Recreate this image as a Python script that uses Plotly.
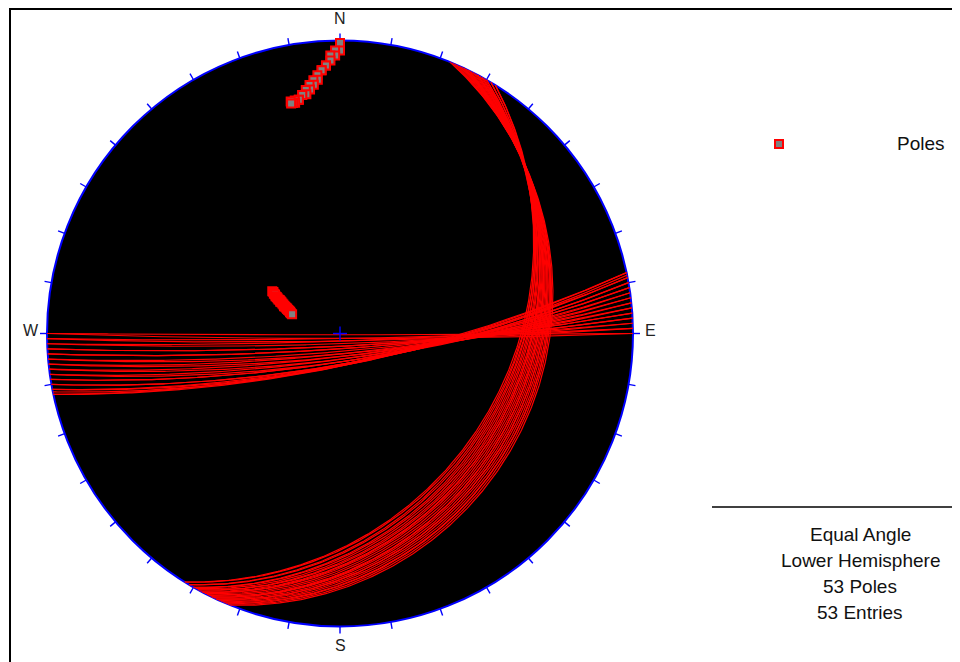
import numpy as np
import plotly.graph_objects as go

# ---- data: planes (dip direction / dip), Dips-style entries ----
set_a_dip_direction = [180, 180, 179, 179, 178, 178, 177, 177, 176, 176, 175, 175, 174, 174,
                       173, 173, 172, 172, 171, 171, 170, 170, 169, 169, 168.5, 168, 168]
set_a_dip = [89.5, 88, 88, 87, 87, 86, 85, 85, 84, 84, 83, 82, 82, 81,
             81, 80, 80, 79, 79, 79, 78, 78, 78, 77.5, 77.5, 78, 77.5]

set_b_dip_direction = [122, 122, 121, 121, 120, 120, 119.5, 119, 119, 118.5, 118, 118, 117.5,
                       117, 116.5, 116, 116, 115.5, 115, 115, 114.5, 114, 113.5, 113, 112.5, 112]
set_b_dip = [30.5, 30, 29.5, 29, 28.5, 28, 27.5, 27, 26.5, 26, 26, 25.5, 25,
             24.5, 24, 24, 23.5, 23, 22.5, 22.5, 22, 21.5, 21, 21, 20.5, 20]

dip_direction = set_a_dip_direction + set_b_dip_direction
dip = set_a_dip + set_b_dip

compass_labels = ["N", "E", "S", "W"]
info_lines = ["Equal Angle", "Lower Hemisphere",
              f"{len(dip)} Poles", f"{len(dip)} Entries"]

# ---- layout geometry (page pixels; the page body adds an 8px margin) ----
OFF = 8
W, H = 960 - OFF, 662 - OFF
CX, CY, R = 340.0 - OFF, 333.5 - OFF, 293.0
FONT = "Liberation Sans, Arial, sans-serif"


def project(n, e, d):
    """Equal-angle lower-hemisphere projection of unit vector (north, east, down)."""
    return e / (1.0 + d), n / (1.0 + d)


# great circles
t = np.linspace(0, np.pi, 361)
gc_x, gc_y = [], []
for dd, dp in zip(dip_direction, dip):
    ddr, dpr = np.radians(dd), np.radians(dp)
    sr = ddr - np.pi / 2
    s = np.array([np.cos(sr), np.sin(sr), 0.0])
    dv = np.array([np.cos(dpr) * np.cos(ddr), np.cos(dpr) * np.sin(ddr), np.sin(dpr)])
    v = np.outer(np.cos(t), s) + np.outer(np.sin(t), dv)
    x, y = project(v[:, 0], v[:, 1], v[:, 2])
    gc_x += list(x) + [None]
    gc_y += list(y) + [None]

# poles
pole_x, pole_y = [], []
for dd, dp in zip(dip_direction, dip):
    tr = np.radians(dd + 180)
    pl = np.radians(90 - dp)
    n, e, d = np.cos(pl) * np.cos(tr), np.cos(pl) * np.sin(tr), np.sin(pl)
    x, y = project(n, e, d)
    pole_x.append(x)
    pole_y.append(y)

fig = go.Figure()

# primitive circle
fig.add_shape(type="circle", xref="x", yref="y", x0=-1, y0=-1, x1=1, y1=1,
              fillcolor="black", line=dict(color="#0000FF", width=2), layer="below")

# ticks every 10 degrees
tick_len = 7 / R
tx, ty = [], []
for az in range(0, 360, 10):
    a = np.radians(az)
    tx += [np.sin(a), (1 + tick_len) * np.sin(a), None]
    ty += [np.cos(a), (1 + tick_len) * np.cos(a), None]
fig.add_trace(go.Scatter(x=tx, y=ty, mode="lines", line=dict(color="#0000FF", width=1.4),
                         hoverinfo="skip", showlegend=False))

# great circles
fig.add_trace(go.Scatter(x=gc_x, y=gc_y, mode="lines", line=dict(color="#FF0000", width=1.2),
                         hoverinfo="skip", showlegend=False))

# centre cross
c = 7 / R
fig.add_trace(go.Scatter(x=[-c, c, None, 0, 0], y=[0, 0, None, -c, c], mode="lines",
                         line=dict(color="#0000FF", width=1.4), hoverinfo="skip", showlegend=False))

# poles
fig.add_trace(go.Scatter(x=pole_x, y=pole_y, mode="markers",
                         marker=dict(symbol="square", size=8, color="#808080",
                                     line=dict(color="#FF0000", width=2)),
                         name="Poles", showlegend=False))

# compass labels (positions in page pixels)
lab_pos = {"N": (340, 18), "S": (340, 645), "W": (31, 330), "E": (650, 330)}
for lab in compass_labels:
    xp, yp = lab_pos[lab]
    fig.add_annotation(x=(xp - OFF - CX) / R, y=(CY - (yp - OFF)) / R, xref="x", yref="y",
                       text=lab, showarrow=False, xanchor="center", yanchor="middle",
                       font=dict(family=FONT, size=16, color="#222"))


def px(xp):
    return (xp - OFF) / W


def py(yp):
    return 1 - (yp - OFF) / H


# legend
fig.add_shape(type="rect", xref="paper", yref="paper",
              x0=px(775), x1=px(783), y0=py(148), y1=py(140),
              fillcolor="#808080", line=dict(color="#FF0000", width=2))
fig.add_annotation(x=px(921), y=py(144), xref="paper", yref="paper", text="Poles",
                   showarrow=False, xanchor="center", yanchor="middle",
                   font=dict(family=FONT, size=19, color="#111"))

# separator line and info text
fig.add_shape(type="line", xref="paper", yref="paper", x0=px(712), x1=px(1000),
              y0=py(507), y1=py(507), line=dict(color="black", width=1.5))
for i, txt in enumerate(info_lines):
    fig.add_annotation(x=px(860), y=py(534 + i * 26.3), xref="paper", yref="paper", text=txt,
                       showarrow=False, xanchor="center", yanchor="middle",
                       font=dict(family=FONT, size=19, color="#111"))

# outer frame
fig.add_shape(type="line", xref="paper", yref="paper", x0=px(10), x1=px(10), y0=py(8), y1=py(700),
              line=dict(color="black", width=2))
fig.add_shape(type="line", xref="paper", yref="paper", x0=px(9), x1=px(1000), y0=py(9), y1=py(9),
              line=dict(color="black", width=2))

fig.update_layout(
    width=W, height=H, margin=dict(l=0, r=0, t=0, b=0),
    paper_bgcolor="white", plot_bgcolor="white",
    xaxis=dict(range=[-CX / R, (W - CX) / R], visible=False, fixedrange=True),
    yaxis=dict(range=[-(H - CY) / R, CY / R], visible=False, fixedrange=True),
)

fig.write_html("out.html")
